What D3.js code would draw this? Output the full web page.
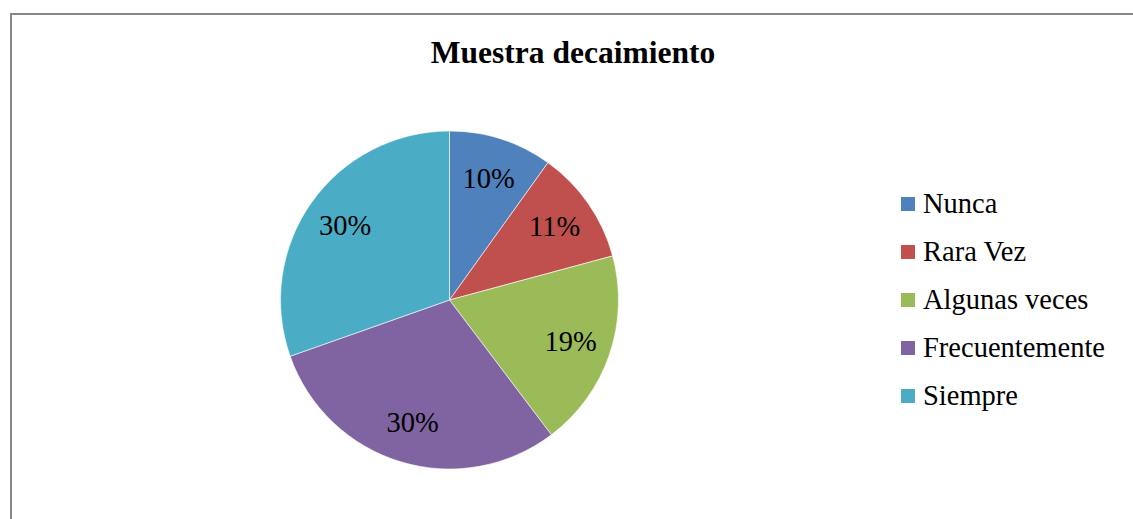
<!DOCTYPE html>
<html>
<head>
<meta charset="utf-8">
<script src="https://cdn.jsdelivr.net/npm/d3@7"></script>
<style>
	body { margin: 0; background: #fff; }
	svg { display: block; }
</style>
</head>
<body>
<svg id="chart" width="1133" height="519"></svg>
<script>
var categories = ["Nunca", "Rara Vez", "Algunas veces", "Frecuentemente", "Siempre"];
var values = [9.9, 10.9, 18.9, 29.9, 30.4];
var colors = ["#4F81BD", "#C0504D", "#9BBB59", "#8064A2", "#4BACC6"];
var title = "Muestra decaimiento";

var serif = "'Times New Roman', 'Liberation Serif', 'DejaVu Serif', serif";
var svg = d3.select("#chart"),
	width = 1133,
	height = 519;

// chart frame (runs off right and bottom edge)
svg.append("rect")
	.attr("x", 11)
	.attr("y", 14)
	.attr("width", width + 20)
	.attr("height", height + 20)
	.attr("fill", "#fff")
	.attr("stroke", "#888")
	.attr("stroke-width", 2);

svg.append("text")
	.attr("x", 573)
	.attr("y", 63)
	.attr("text-anchor", "middle")
	.attr("font-family", serif)
	.attr("font-size", 31.5)
	.attr("font-weight", "bold")
	.text(title);

var cx = 449.5, cy = 300, radius = 169;
var data = categories.map(function(c, i) { return { name: c, value: values[i] }; });
var total = d3.sum(values);

var pie = d3.pie()
	.sort(null)
	.value(function(d) { return d.value; });
var arc = d3.arc().innerRadius(0).outerRadius(radius);
var labelArc = d3.arc().innerRadius(128).outerRadius(128);
var color = d3.scaleOrdinal().domain(categories).range(colors);

var g = svg.append("g")
	.attr("transform", "translate(" + cx + "," + cy + ")");

var slices = g.selectAll("g.slice")
	.data(pie(data))
	.enter()
	.append("g")
	.attr("class", "slice");

slices.append("path")
	.attr("d", arc)
	.attr("fill", function(d) { return color(d.data.name); })
	.attr("stroke", "#fff")
	.attr("stroke-width", 0.6);

slices.append("text")
	.attr("transform", function(d) { return "translate(" + labelArc.centroid(d) + ")"; })
	.attr("text-anchor", "middle")
	.attr("dy", "0.33em")
	.attr("font-family", serif)
	.attr("font-size", 28.5)
	.text(function(d) { return Math.round(d.data.value / total * 100) + "%"; });

// legend
var legend = svg.append("g")
	.attr("transform", "translate(901,213)");
var item = legend.selectAll("g")
	.data(categories)
	.enter()
	.append("g")
	.attr("transform", function(d, i) { return "translate(0," + (i * 48) + ")"; });
item.append("rect")
	.attr("x", 0)
	.attr("y", -16)
	.attr("width", 14)
	.attr("height", 14)
	.attr("fill", function(d) { return color(d); });
item.append("text")
	.attr("x", 22)
	.attr("y", 0)
	.attr("font-family", serif)
	.attr("font-size", 28.5)
	.text(function(d) { return d; });
</script>
</body>
</html>
